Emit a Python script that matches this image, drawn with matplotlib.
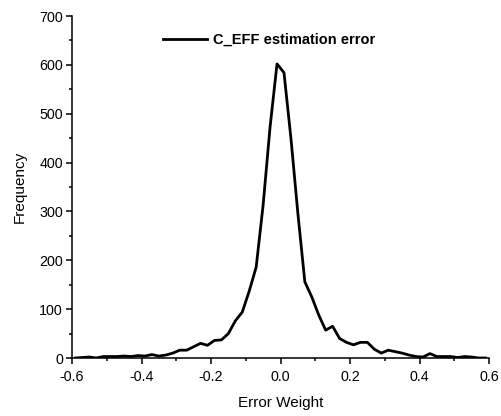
import numpy as np
import matplotlib
matplotlib.use('Agg')
from matplotlib import pyplot as plt
from matplotlib.ticker import MultipleLocator, FormatStrFormatter

plt.rcParams['font.family'] = ['Liberation Sans', 'DejaVu Sans']

# bin centres (error weight) and counts
error_weight = [-0.59, -0.57, -0.55, -0.53, -0.51, -0.49, -0.47, -0.45, -0.43, -0.41,
                -0.39, -0.37, -0.35, -0.33, -0.31, -0.29, -0.27, -0.25, -0.23, -0.21,
                -0.19, -0.17, -0.15, -0.13, -0.11, -0.09, -0.07, -0.05, -0.03, -0.01,
                0.01, 0.03, 0.05, 0.07, 0.09, 0.11, 0.13, 0.15, 0.17, 0.19,
                0.21, 0.23, 0.25, 0.27, 0.29, 0.31, 0.33, 0.35, 0.37, 0.39,
                0.41, 0.43, 0.45, 0.47, 0.49, 0.51, 0.53, 0.55, 0.57, 0.59]
frequency = [0, 1, 2, 0, 3, 3, 3, 4, 3, 5,
             4, 7, 4, 6, 10, 16, 16, 23, 30, 26,
             36, 37, 50, 76, 94, 137, 186, 313, 473, 602,
             584, 450, 296, 156, 125, 88, 57, 65, 40, 32,
             27, 32, 32, 18, 10, 16, 13, 10, 6, 3,
             2, 9, 3, 3, 3, 1, 3, 2, 0, 0]

fig = plt.figure(figsize=(5.02, 4.16), dpi=100)
ax = fig.add_axes([72 / 502, 1 - 358 / 416, 417 / 502, 342 / 416])

ax.plot(error_weight, frequency, color='black', linewidth=2.0,
        label='C_EFF estimation error')

ax.set_xlim(-0.6, 0.6)
ax.set_ylim(0, 700)
ax.xaxis.set_major_locator(MultipleLocator(0.2))
ax.xaxis.set_minor_locator(MultipleLocator(0.1))
ax.yaxis.set_major_locator(MultipleLocator(100))
ax.yaxis.set_minor_locator(MultipleLocator(50))
ax.xaxis.set_major_formatter(FormatStrFormatter('%.1f'))

for side in ['top', 'right']:
    ax.spines[side].set_visible(False)
for side in ['left', 'bottom']:
    ax.spines[side].set_linewidth(1.1)

ax.tick_params(which='major', direction='out', length=4.5, width=1.1, labelsize=10.3)
ax.tick_params(axis='x', which='major', pad=4)
ax.tick_params(axis='y', which='major', pad=2)
ax.tick_params(which='minor', direction='out', length=2.5, width=1.1)

ax.set_xlabel('Error Weight', fontsize=11, labelpad=9)
ax.set_ylabel('Frequency', fontsize=11, labelpad=9)

ax.legend(loc='center left', bbox_to_anchor=((163 - 72) / 417, (358 - 40) / 342),
          frameon=False, borderpad=0, borderaxespad=0, handlelength=3.0,
          handletextpad=0.45, prop={'weight': 'bold', 'size': 10.5})

fig.savefig('out.png', dpi=100)
